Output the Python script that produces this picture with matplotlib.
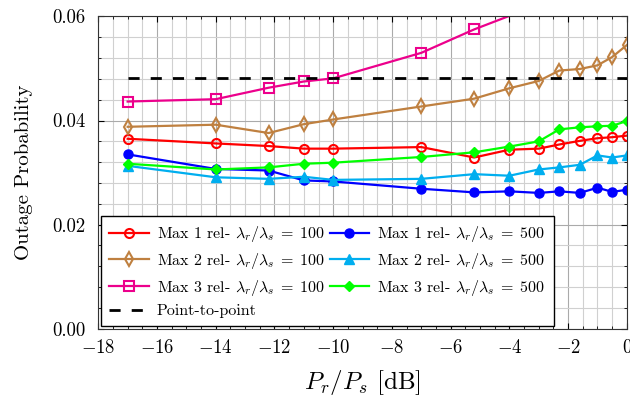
import numpy as np
import matplotlib
matplotlib.use('Agg')
import matplotlib.pyplot as plt
from matplotlib.ticker import MultipleLocator

plt.rcParams['font.family'] = 'serif'
plt.rcParams['font.serif'] = ['cmr10', 'DejaVu Serif']
plt.rcParams['mathtext.fontset'] = 'cm'
plt.rcParams['axes.formatter.use_mathtext'] = True

# data
x = [-17, -14, -12.2, -11, -10, -7, -5.2, -4, -3, -2.3, -1.6, -1, -0.5, 0]
max1_100 = [0.0365, 0.0356, 0.0351, 0.0346, 0.0346, 0.0349, 0.0329, 0.0344,
            0.0346, 0.0354, 0.0361, 0.0366, 0.0368, 0.0371]
max2_100 = [0.0388, 0.0392, 0.0376, 0.0393, 0.0402, 0.0427, 0.0442, 0.0462,
            0.0476, 0.0496, 0.0499, 0.0506, 0.0522, 0.0545]
max3_100 = [0.04365, 0.0441, 0.0463, 0.0475, 0.0481, 0.0530, 0.0575, 0.0601,
            0.0625, 0.0650, 0.0675, 0.0700, 0.0720, 0.0745]
max1_500 = [0.0335, 0.0307, 0.0304, 0.0285, 0.0283, 0.0269, 0.0262, 0.0264,
            0.0261, 0.0264, 0.0261, 0.0271, 0.0263, 0.0267]
max2_500 = [0.0313, 0.0291, 0.0288, 0.0292, 0.0286, 0.0288, 0.0297, 0.0294,
            0.0306, 0.0310, 0.0315, 0.0333, 0.0329, 0.0333]
max3_500 = [0.0317, 0.0306, 0.0310, 0.0317, 0.0319, 0.0330, 0.0339, 0.0350,
            0.0360, 0.0383, 0.0387, 0.0389, 0.0390, 0.0399]
p2p_x = [-17, 0]
p2p = [0.0481, 0.0481]

fig = plt.figure(figsize=(6.3, 4.0), dpi=100)
ax = fig.add_axes([0.156, 0.178, 0.839, 0.781])

lw = 1.6
ms = 6.5
# markers outside the y range are not drawn
inside = [i for i, v in enumerate(max3_100) if v < 0.06]

ax.plot(x, max1_100, color='#FF0000', lw=lw, marker='o', ms=ms, mfc='none', mew=1.5,
        label=r'Max 1 rel- $\lambda_r/\lambda_s\;=\;100$')
ax.plot(x, max2_100, color='#BF8040', lw=lw, marker='d', ms=ms + 1, mfc='none', mew=1.5,
        label=r'Max 2 rel- $\lambda_r/\lambda_s\;=\;100$')
ax.plot(x, max3_100, color='#EC008C', lw=lw, marker='s', ms=ms, mfc='none', mew=1.5,
        markevery=inside, label=r'Max 3 rel- $\lambda_r/\lambda_s\;=\;100$')
ax.plot(p2p_x, p2p, color='black', lw=2, ls=(0, (4, 4)), label='Point-to-point')
ax.plot(x, max1_500, color='#0000FF', lw=lw, marker='o', ms=ms,
        label=r'Max 1 rel- $\lambda_r/\lambda_s\;=\;500$')
ax.plot(x, max2_500, color='#00AEEF', lw=lw, marker='^', ms=ms + 1,
        label=r'Max 2 rel- $\lambda_r/\lambda_s\;=\;500$')
ax.plot(x, max3_500, color='#00FF00', lw=lw, marker='D', ms=ms - 1,
        label=r'Max 3 rel- $\lambda_r/\lambda_s\;=\;500$')

ax.set_xlim(-18, 0)
ax.set_ylim(0, 0.06)
ax.xaxis.set_major_locator(MultipleLocator(2))
ax.xaxis.set_minor_locator(MultipleLocator(0.5))
ax.yaxis.set_major_locator(MultipleLocator(0.02))
ax.yaxis.set_minor_locator(MultipleLocator(0.004))
ax.yaxis.set_major_formatter(plt.FuncFormatter(lambda v, p: '%.2f' % v))
ax.grid(True, which='major', color='#AAAAAA', lw=0.8)
ax.grid(True, which='minor', color='#D0D0D0', lw=0.8)
ax.set_axisbelow(True)
ax.tick_params(which='both', direction='in', top=True, right=True, labelsize=13.5)
ax.tick_params(axis='y', pad=9)
ax.tick_params(axis='x', pad=7)
ax.tick_params(which='major', length=4)
ax.tick_params(which='minor', length=2)
for s in ax.spines.values():
    s.set_color('#333333')

ax.set_xlabel(r'$P_r/P_s$ [dB]', fontsize=18, labelpad=8)
ax.set_ylabel('Outage Probability', fontsize=15, labelpad=14)

leg = ax.legend(loc='lower left', ncol=2, fontsize=11.5, frameon=True, fancybox=False,
                edgecolor='black', framealpha=1, borderaxespad=0.15,
                handlelength=2.5, handletextpad=0.5, columnspacing=0.3,
                labelspacing=0.42, borderpad=0.5)
leg.get_frame().set_linewidth(1.0)

fig.savefig('out.png', dpi=100)
